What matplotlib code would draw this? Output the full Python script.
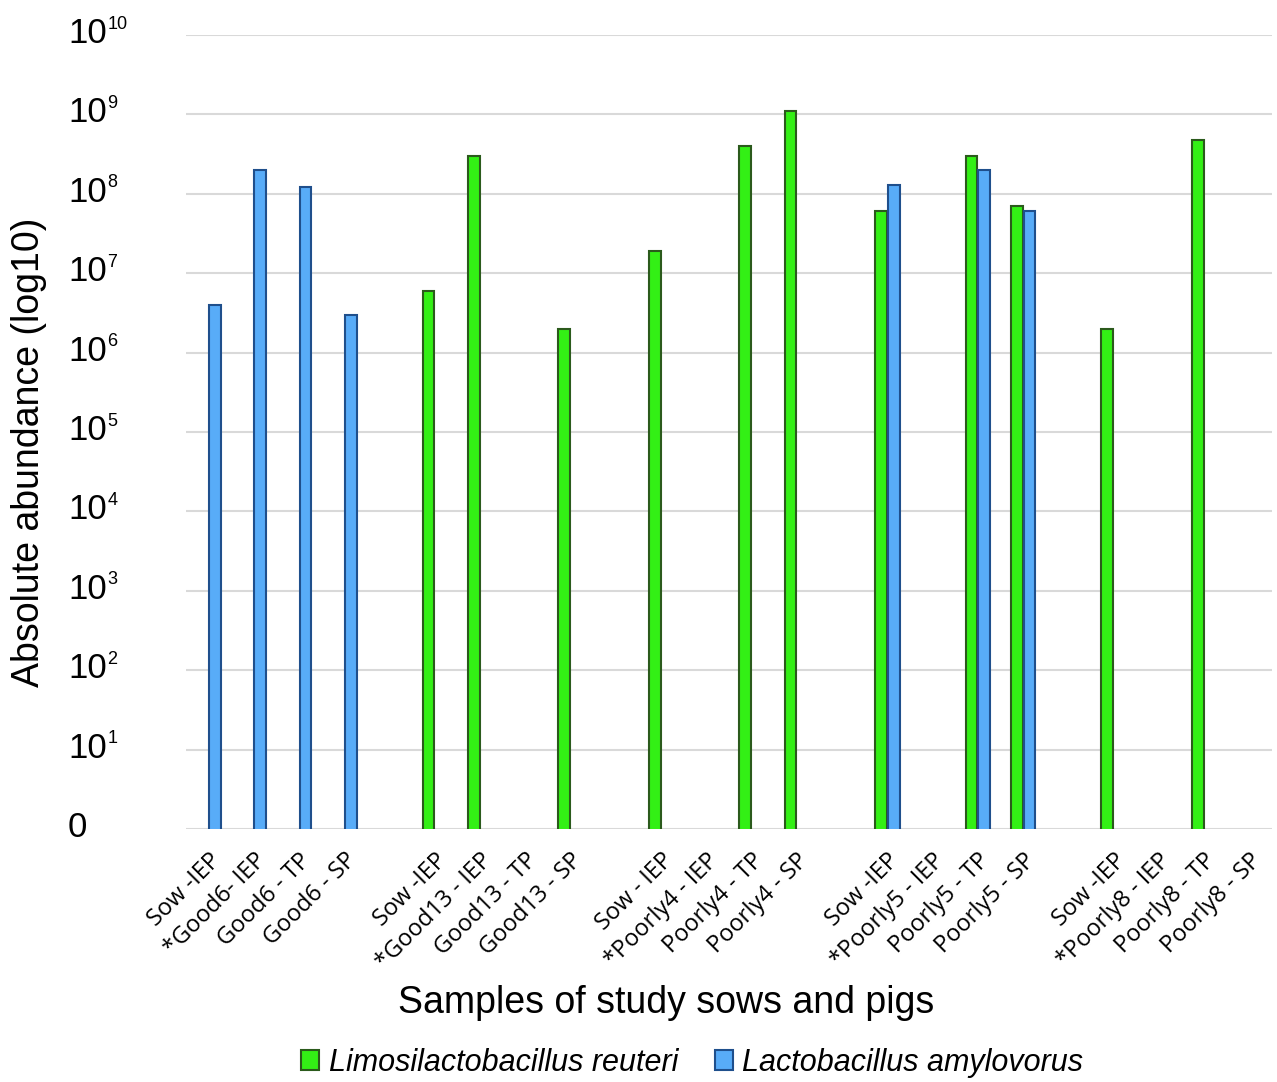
import matplotlib
matplotlib.use("Agg")
import matplotlib.pyplot as plt
import matplotlib.transforms as mtransforms
import numpy as np
from matplotlib.patches import Patch

plt.rcParams['font.family'] = ['Liberation Sans', 'DejaVu Sans']

# sample labels, four per sow/pig group
labels = ["Sow -IEP", "*Good6- IEP", "Good6 - TP", "Good6 - SP",
          "Sow -IEP", "*Good13 - IEP", "Good13 - TP", "Good13 - SP",
          "Sow - IEP", "*Poorly4 - IEP", "Poorly4 - TP", "Poorly4 - SP",
          "Sow -IEP", "*Poorly5 - IEP", "Poorly5 - TP", "Poorly5 - SP",
          "Sow -IEP", "*Poorly8 - IEP", "Poorly8 - TP", "Poorly8 - SP"]

nan = np.nan
reuteri = [nan, nan, nan, nan,
           6e6, 3e8, nan, 2e6,
           1.9e7, nan, 4e8, 1.1e9,
           6e7, nan, 3e8, 7e7,
           2e6, nan, 4.7e8, nan]
amylovorus = [4e6, 2e8, 1.2e8, 3e6,
              nan, nan, nan, nan,
              nan, nan, nan, nan,
              1.3e8, nan, 2e8, 6e7,
              nan, nan, nan, nan]
exponents = list(range(11))

green = '#33f015'
green_edge = '#2b5a1c'
blue = '#58acf8'
blue_edge = '#1f4f8c'

# one empty slot between groups
x = np.array([(i // 4) * 5 + i % 4 for i in range(len(labels))])
r = np.array(reuteri)
a = np.array(amylovorus)
mr = np.isfinite(r)
ma = np.isfinite(a)

fig = plt.figure(figsize=(12.77, 10.82), dpi=100)
ax = fig.add_axes([0.1457, 0.2338, 0.8503, 0.7339])

w = 0.26
ax.bar(x[mr] - 0.14, r[mr], w, bottom=0, color=green,
       edgecolor=green_edge, linewidth=1.5, zorder=3)
ax.bar(x[ma] + 0.14, a[ma], w, bottom=0, color=blue,
       edgecolor=blue_edge, linewidth=1.5, zorder=3)

ax.set_yscale('log')
ax.set_ylim(1, 1e10)
ax.set_xlim(-0.5, 23.5)
ax.set_yticks([10.0 ** k for k in exponents])
ax.set_yticklabels([])
ax.minorticks_off()
ax.tick_params(axis='y', length=0)
ax.grid(axis='y', color='#d9d9d9', linewidth=1.5, zorder=0)

# y labels: "10" with a small raised exponent, "0" at the bottom
trans = mtransforms.blended_transform_factory(fig.transFigure, ax.transData)
trans = mtransforms.offset_copy(trans, fig=fig, y=-8, units='dots')
for k in exponents:
    base = ax.text(68 / 1277, 10.0 ** k, '0' if k == 0 else '10', transform=trans,
                   ha='left', va='baseline', fontsize=25, clip_on=False)
    if k > 0:
        ax.annotate(str(k), xy=(1, 1), xycoords=base, xytext=(0.5, 1),
                    textcoords='offset points', ha='left', va='top', fontsize=13)

ax.set_xticks(x)
ax.set_xticklabels(labels, rotation=45, ha='right', rotation_mode='anchor',
                   fontsize=17, family=['Open Sans', 'DejaVu Sans'])
ax.tick_params(axis='x', length=0, pad=14)

for s in ax.spines.values():
    s.set_visible(False)

fig.text(0.522, 0.073, 'Samples of study sows and pigs', ha='center', va='center',
         fontsize=27)
fig.text(0.023, 0.582, 'Absolute abundance (log10)', ha='center', va='center',
         rotation=90, fontsize=27)

handles = [Patch(facecolor=green, edgecolor=green_edge, linewidth=1.5),
           Patch(facecolor=blue, edgecolor=blue_edge, linewidth=1.5)]
fig.legend(handles, ['Limosilactobacillus reuteri', 'Lactobacillus amylovorus'],
           loc='center', bbox_to_anchor=(0.542, 0.0176), ncol=2, frameon=False,
           handlelength=0.6, handleheight=0.6, handletextpad=0.3, columnspacing=1.2,
           prop={'family': ['Liberation Sans Narrow', 'Liberation Sans'],
                 'style': 'italic', 'size': 22})

fig.savefig('out.png', dpi=100)
